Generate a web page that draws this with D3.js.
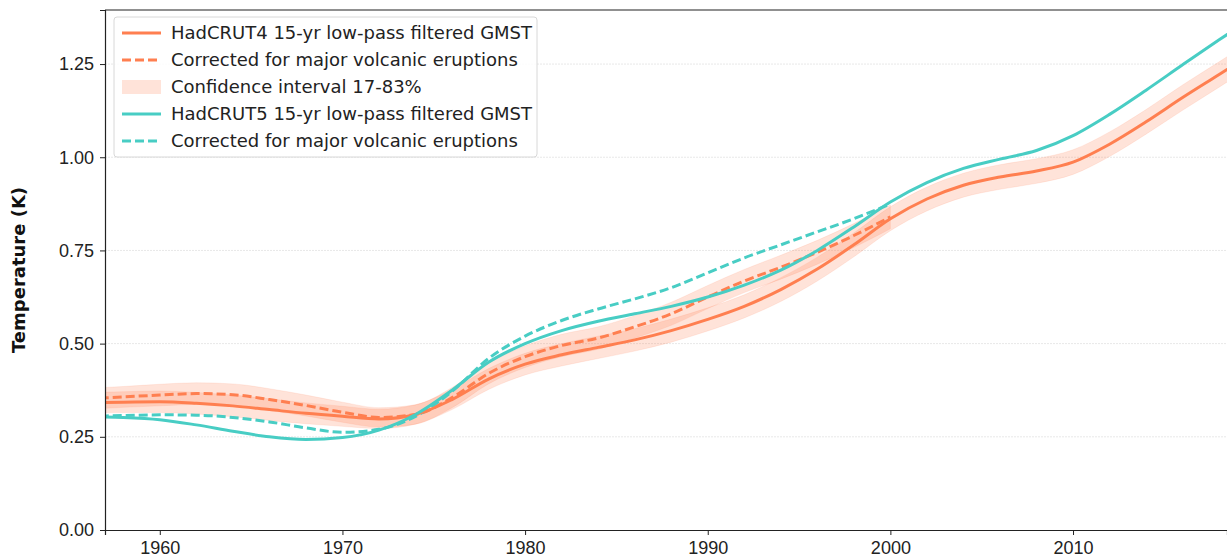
<!DOCTYPE html>
<html>
<head>
<meta charset="utf-8">
<script src="https://cdn.jsdelivr.net/npm/d3@7"></script>
<style>
  body { margin: 0; background: #fff; }
  svg { font-family: "DejaVu Sans", sans-serif; }
</style>
</head>
<body>
<div id="chart"></div>
<script>
// years sampled every 2 yrs, plot clipped to 1957..~2018.4
var years = [1956,1958,1960,1962,1964,1966,1968,1970,1972,1974,1976,1978,1980,1982,1984,1986,1988,
             1990,1992,1994,1996,1998,2000,2002,2004,2006,2008,2010,2012,2014,2016,2018,2020];

var hadcrut4 = [0.341,0.343,0.344,0.340,0.333,0.323,0.313,0.305,0.298,0.310,0.350,0.405,0.445,0.470,0.490,0.510,0.535,
                0.565,0.600,0.645,0.700,0.765,0.835,0.888,0.925,0.947,0.963,0.987,1.035,1.095,1.160,1.222,1.285];

var hadcrut4Volc = [0.352,0.357,0.362,0.366,0.363,0.350,0.334,0.316,0.302,0.310,0.355,0.420,0.465,0.495,0.515,0.545,0.580,
                    0.625,0.668,0.705,0.745,0.790,0.840,null,null,null,null,null,null,null,null,null,null];

var hadcrut5 = [0.304,0.302,0.296,0.282,0.265,0.250,0.243,0.248,0.268,0.310,0.375,0.450,0.500,0.535,0.560,0.580,0.600,
                0.625,0.657,0.697,0.750,0.813,0.880,0.932,0.970,0.995,1.018,1.058,1.115,1.180,1.248,1.315,1.380];

var hadcrut5Volc = [0.305,0.307,0.309,0.308,0.302,0.290,0.274,0.262,0.270,0.305,0.372,0.460,0.520,0.562,0.593,0.620,0.650,
                    0.690,0.730,0.765,0.800,0.835,0.875,null,null,null,null,null,null,null,null,null,null];

// half width of the 17-83% interval
var ciHalf = [0.028,0.028,0.029,0.029,0.029,0.029,0.028,0.027,0.026,0.026,0.027,0.028,0.029,0.030,0.030,0.030,0.031,
              0.031,0.031,0.032,0.032,0.032,0.032,0.032,0.032,0.033,0.033,0.033,0.033,0.033,0.034,0.034,0.034];

var xTicks = [1960,1970,1980,1990,2000,2010];
var yTicks = [0,0.25,0.5,0.75,1.0,1.25];

var legendItems = [
  {label: 'HadCRUT4 15-yr low-pass filtered GMST', kind: 'line', color: '#ff7f50', dash: null},
  {label: 'Corrected for major volcanic eruptions', kind: 'line', color: '#ff7f50', dash: '9,4'},
  {label: 'Confidence interval 17-83%', kind: 'patch', color: '#ff7f50', dash: null},
  {label: 'HadCRUT5 15-yr low-pass filtered GMST', kind: 'line', color: '#48cdc4', dash: null},
  {label: 'Corrected for major volcanic eruptions', kind: 'line', color: '#48cdc4', dash: '9,4'}
];

var width = 1227, height = 560,
    margin = {top: 10, left: 105, bottom: 30};

var svg = d3.select('#chart').append('svg')
  .attr('width', width)
  .attr('height', height);

var x = d3.scaleLinear()
  .domain([1957, 2018.43])
  .range([margin.left, width]);

var y = d3.scaleLinear()
  .domain([0, 1.395])
  .range([height - margin.bottom, margin.top]);

svg.append('defs').append('clipPath').attr('id', 'clip')
  .append('rect')
    .attr('x', margin.left)
    .attr('y', margin.top)
    .attr('width', width - margin.left)
    .attr('height', height - margin.bottom - margin.top);

// grid
svg.append('g').selectAll('line')
  .data(yTicks.slice(1))
  .enter().append('line')
    .attr('x1', margin.left).attr('x2', width)
    .attr('y1', function(d){ return y(d); })
    .attr('y2', function(d){ return y(d); })
    .style('stroke', '#e8e8e8')
    .style('stroke-width', 1)
    .style('stroke-dasharray', '2,1');

var plot = svg.append('g').attr('clip-path', 'url(#clip)');

var rows = function(vals){
  return years.map(function(yr, i){ return {year: yr, v: vals[i], h: ciHalf[i]}; });
};

var band = d3.area()
  .defined(function(d){ return d.v !== null; })
  .curve(d3.curveMonotoneX)
  .x(function(d){ return x(d.year); })
  .y0(function(d){ return y(d.v - d.h); })
  .y1(function(d){ return y(d.v + d.h); });

var line = d3.line()
  .defined(function(d){ return d.v !== null; })
  .curve(d3.curveMonotoneX)
  .x(function(d){ return x(d.year); })
  .y(function(d){ return y(d.v); });

[hadcrut4, hadcrut4Volc].forEach(function(s){
  plot.append('path')
    .datum(rows(s))
    .attr('d', band)
    .style('fill', '#ff7f50')
    .style('fill-opacity', 0.22)
    .style('stroke', '#ff7f50')
    .style('stroke-opacity', 0.12)
    .style('stroke-width', 1);
});

var series = [
  {vals: hadcrut4Volc, color: '#ff7f50', dash: '9,4'},
  {vals: hadcrut5Volc, color: '#48cdc4', dash: '9,4'},
  {vals: hadcrut4, color: '#ff7f50', dash: null},
  {vals: hadcrut5, color: '#48cdc4', dash: null}
];

series.forEach(function(s){
  plot.append('path')
    .datum(rows(s.vals))
    .attr('d', line)
    .style('fill', 'none')
    .style('stroke', s.color)
    .style('stroke-width', 3)
    .style('stroke-dasharray', s.dash);
});

// axes
var xAxis = svg.append('g')
  .attr('transform', 'translate(0,' + (height - margin.bottom) + ')')
  .call(d3.axisBottom(x).tickValues(xTicks).tickFormat(d3.format('d')).tickSizeOuter(0).tickSize(5).tickPadding(6));

var yAxis = svg.append('g')
  .attr('transform', 'translate(' + margin.left + ',0)')
  .call(d3.axisLeft(y).tickValues(yTicks).tickFormat(d3.format('.2f')).tickSizeOuter(0).tickSize(5).tickPadding(6));

[xAxis, yAxis].forEach(function(a){
  a.selectAll('text').style('font-size', '18px').style('fill', '#222');
  a.selectAll('line').style('stroke', '#222');
  a.select('.domain').style('stroke', '#222').style('stroke-width', 1.2);
});

svg.append('line')
  .attr('x1', margin.left).attr('x2', width)
  .attr('y1', margin.top).attr('y2', margin.top)
  .style('stroke', '#222').style('stroke-width', 1.2);

svg.append('text')
  .attr('transform', 'translate(25,' + ((margin.top + height - margin.bottom) / 2) + ') rotate(-90)')
  .attr('text-anchor', 'middle')
  .style('font-size', '18px')
  .style('font-weight', 'bold')
  .style('fill', '#111')
  .text('Temperature (K)');

// legend
var legend = svg.append('g').attr('transform', 'translate(114,17)');

legend.append('rect')
  .attr('width', 423).attr('height', 140)
  .attr('rx', 3)
  .style('fill', '#fff')
  .style('fill-opacity', 0.85)
  .style('stroke', '#d8d8d8');

var item = legend.selectAll('g.item')
  .data(legendItems)
  .enter().append('g')
    .attr('class', 'item')
    .attr('transform', function(d, i){ return 'translate(0,' + (16 + i * 27) + ')'; });

item.filter(function(d){ return d.kind === 'line'; })
  .append('line')
    .attr('x1', 8).attr('x2', 47)
    .style('stroke', function(d){ return d.color; })
    .style('stroke-width', 3)
    .style('stroke-dasharray', function(d){ return d.dash; });

item.filter(function(d){ return d.kind === 'patch'; })
  .append('rect')
    .attr('x', 8).attr('y', -7).attr('width', 39).attr('height', 14)
    .style('fill', function(d){ return d.color; })
    .style('fill-opacity', 0.22);

item.append('text')
  .attr('x', 57)
  .attr('dy', '0.35em')
  .style('font-size', '18px')
  .style('fill', '#222')
  .text(function(d){ return d.label; });
</script>
</body>
</html>
